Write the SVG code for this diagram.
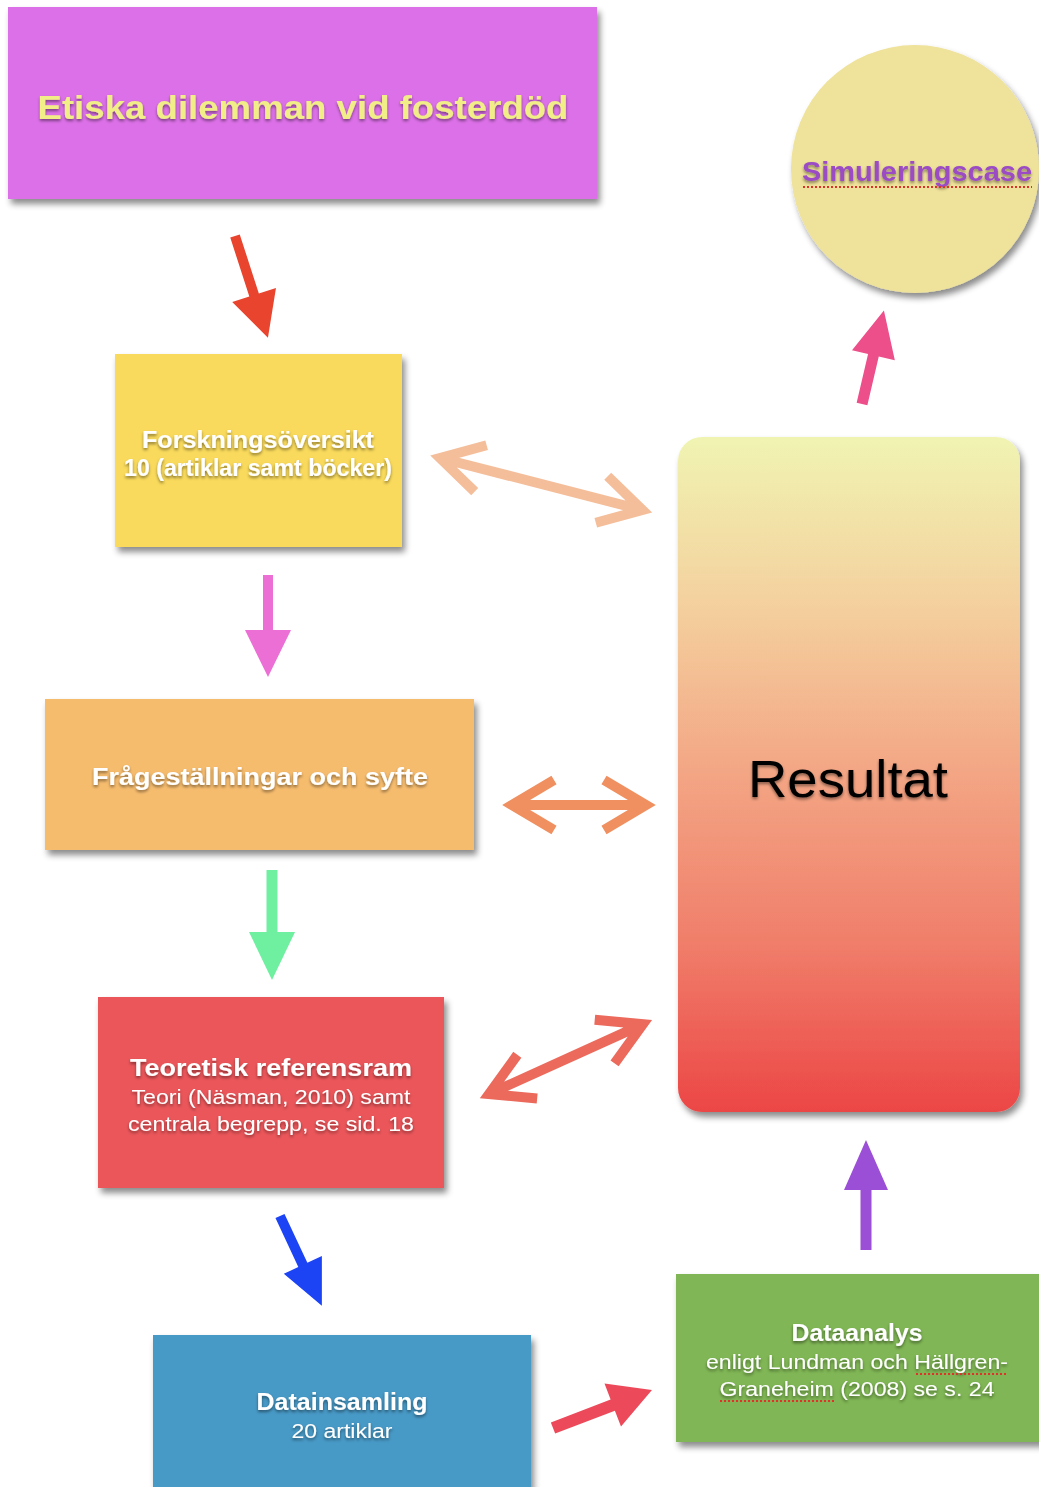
<svg xmlns="http://www.w3.org/2000/svg" width="1039" height="1487" viewBox="0 0 1039 1487">
  <defs>
    <filter id="boxShadow" x="-10%" y="-10%" width="125%" height="125%">
      <feDropShadow dx="3" dy="5" stdDeviation="3" flood-color="#000" flood-opacity="0.45"/>
    </filter>
    <filter id="textShadow" x="-5%" y="-30%" width="110%" height="170%">
      <feDropShadow dx="0" dy="2" stdDeviation="1.5" flood-color="#000" flood-opacity="0.45"/>
    </filter>
    <linearGradient id="resGrad" x1="0" y1="0" x2="0" y2="1">
      <stop offset="0" stop-color="#F0F4B2"/>
      <stop offset="0.25" stop-color="#F4D09E"/>
      <stop offset="0.5" stop-color="#F3A584"/>
      <stop offset="0.75" stop-color="#F07E6A"/>
      <stop offset="1" stop-color="#EC4646"/>
    </linearGradient>
  </defs>
  <style>
    text { font-family: "Liberation Sans", Arial, sans-serif; text-anchor: middle; }
    .head { font-weight: bold; font-size: 24px; fill: #FFFFFF; filter: url(#textShadow); }
    .sub { font-size: 20px; fill: #FFFFFF; filter: url(#textShadow); }
    .box { filter: url(#boxShadow); }
    .chev { fill: none; stroke-width: 10; stroke-linejoin: miter; stroke-linecap: butt; }
    .spell { stroke: #E0302A; stroke-width: 2; stroke-dasharray: 2 2; fill: none; }
  </style>

  <rect width="1039" height="1487" fill="#FFFFFF"/>

  <!-- Connectors -->
  <g id="connectors">
    <polygon fill="#E8442E" transform="translate(235,236) rotate(72.07)" points="0,-5 62,-5 62,-23 107,0 62,23 62,5 0,5"/>
    <polygon fill="#EC4F8A" transform="translate(862,404) rotate(-76.8)" points="0,-5.5 50,-5.5 50,-22 96,0 50,22 50,5.5 0,5.5"/>
    <polygon fill="#EC6FD6" transform="translate(268,575) rotate(90)" points="0,-5 55,-5 55,-23 102,0 55,23 55,5 0,5"/>
    <polygon fill="#6FF0A0" transform="translate(272,870) rotate(90)" points="0,-5.5 62,-5.5 62,-23 110,0 62,23 62,5.5 0,5.5"/>
    <polygon fill="#1C44F5" transform="translate(280,1216) rotate(64.98)" points="0,-5 54,-5 54,-21 99,0 54,21 54,5 0,5"/>
    <polygon fill="#EC4A5A" transform="translate(553,1428) rotate(-21)" points="0,-6 64,-6 64,-23 106,0 64,23 64,6 0,6"/>
    <polygon fill="#9B4FD6" transform="translate(866,1250) rotate(-90)" points="0,-5.5 60,-5.5 60,-22 110,0 60,22 60,5.5 0,5.5"/>

    <path class="chev" stroke="#F5BE9A" transform="translate(440,458) rotate(14.4)" d="M4,0 L205,0 M42,-24 L0,0 L42,24 M167,-24 L209,0 L167,24"/>
    <path class="chev" stroke="#F09060" transform="translate(512,805)" d="M4,0 L130,0 M42,-25 L0,0 L42,25 M92,-25 L134,0 L92,25"/>
    <path class="chev" stroke="#EB6A5C" transform="translate(489,1094) rotate(-24.4)" d="M4,0 L165,0 M42,-24 L0,0 L42,24 M127,-24 L169,0 L127,24"/>
  </g>

  <!-- Nodes -->
  <g id="node-title">
    <rect class="box" x="8" y="7" width="589" height="192" fill="#DC6FE8"/>
    <text x="303" y="119" font-size="33" font-weight="bold" fill="#F1EE88" filter="url(#textShadow)" textLength="531" lengthAdjust="spacingAndGlyphs">Etiska dilemman vid fosterdöd</text>
  </g>

  <g id="node-simulering">
    <circle class="box" cx="915" cy="169" r="124" fill="#EFE29A"/>
    <text x="917" y="181" font-size="27" font-weight="bold" fill="#9B4BC4" filter="url(#textShadow)" textLength="230" lengthAdjust="spacingAndGlyphs">Simuleringscase</text>
    <line class="spell" x1="803" y1="187" x2="1032" y2="187"/>
  </g>

  <g id="node-forskning">
    <rect class="box" x="115" y="354" width="287" height="193" fill="#F9DA5C"/>
    <text class="head" x="258" y="448" font-size="22" textLength="232" lengthAdjust="spacingAndGlyphs">Forskningsöversikt</text>
    <text class="head" x="258" y="476" font-size="22" textLength="268" lengthAdjust="spacingAndGlyphs">10 (artiklar samt böcker)</text>
  </g>

  <g id="node-fragestallningar">
    <rect class="box" x="45" y="699" width="429" height="151" fill="#F6BC6E"/>
    <text class="head" x="260" y="785" textLength="336" lengthAdjust="spacingAndGlyphs">Frågeställningar och syfte</text>
  </g>

  <g id="node-teoretisk">
    <rect class="box" x="98" y="997" width="346" height="191" fill="#EB575A"/>
    <text class="head" x="271" y="1076" textLength="282" lengthAdjust="spacingAndGlyphs">Teoretisk referensram</text>
    <text class="sub" x="271" y="1104" fill="#FBE4E4" textLength="279" lengthAdjust="spacingAndGlyphs">Teori (Näsman, 2010) samt</text>
    <text class="sub" x="271" y="1131" fill="#FBE4E4" textLength="286" lengthAdjust="spacingAndGlyphs">centrala begrepp, se sid. 18</text>
  </g>

  <g id="node-datainsamling">
    <rect class="box" x="153" y="1335" width="378" height="160" fill="#4799C6"/>
    <text class="head" x="342" y="1410" textLength="171" lengthAdjust="spacingAndGlyphs">Datainsamling</text>
    <text class="sub" x="342" y="1438" textLength="101" lengthAdjust="spacingAndGlyphs">20 artiklar</text>
  </g>

  <g id="node-dataanalys">
    <rect class="box" x="676" y="1274" width="370" height="168" fill="#80B655"/>
    <text class="head" x="857" y="1341" textLength="131" lengthAdjust="spacingAndGlyphs">Dataanalys</text>
    <text class="sub" x="857" y="1369" textLength="302" lengthAdjust="spacingAndGlyphs">enligt Lundman och Hällgren-</text>
    <text class="sub" x="857" y="1396" textLength="275" lengthAdjust="spacingAndGlyphs">Graneheim (2008) se s. 24</text>
    <line class="spell" x1="916" y1="1374" x2="1006" y2="1374"/>
    <line class="spell" x1="720" y1="1401" x2="834" y2="1401"/>
  </g>

  <g id="node-resultat">
    <rect class="box" x="678" y="437" width="342" height="675" rx="24" ry="24" fill="url(#resGrad)"/>
    <text x="848" y="797" font-size="52" fill="#000000" filter="url(#textShadow)" textLength="200" lengthAdjust="spacingAndGlyphs">Resultat</text>
  </g>
</svg>
